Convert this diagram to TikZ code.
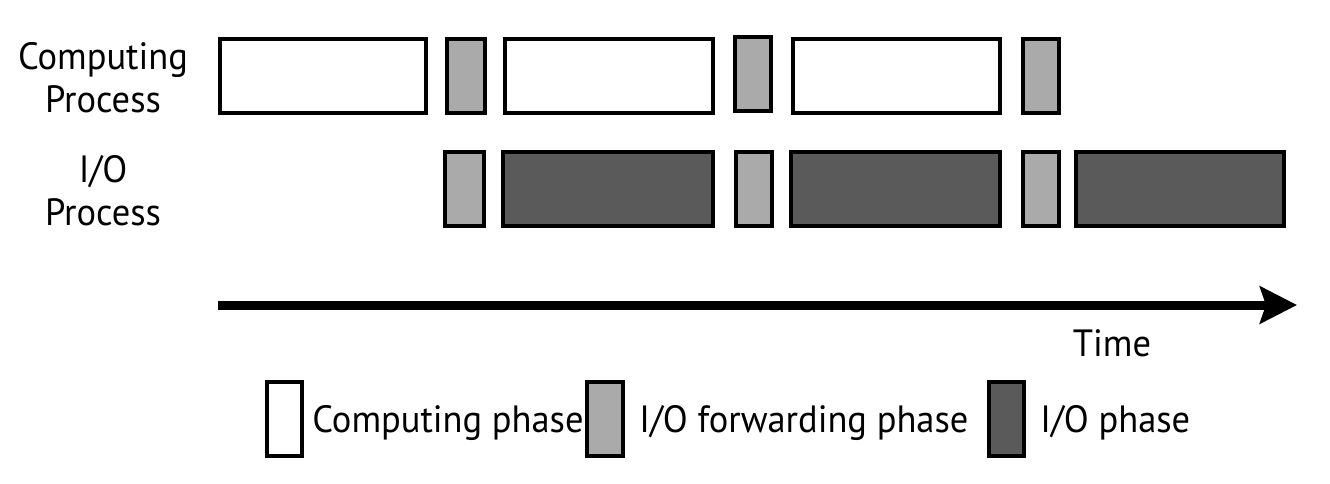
\documentclass[tikz,border=0pt]{standalone}
\usepackage{fontspec}
\setmainfont[FakeStretch=0.96]{PT Sans}
\usepackage{tikz}
\usetikzlibrary{positioning,arrows.meta}
\definecolor{fwdgray}{HTML}{AAAAAA}
\definecolor{iogray}{HTML}{5A5A5A}
\tikzset{
  phase/.style={rectangle, draw=black, line width=2pt, minimum height=37pt, inner sep=0pt},
  comp/.style={phase, fill=white},
  fwdp/.style={phase, fill=fwdgray},
  iop/.style={phase, fill=iogray},
  label/.style={font=\fontsize{19}{21.5}\selectfont, align=center, inner sep=0pt},
  timeline/.style={line width=4.5pt, -{Stealth[length=18.5pt,width=18.5pt,inset=3pt]}},
}
\begin{document}
\begin{tikzpicture}[x=0.5pt, y=-0.5pt]
\useasboundingbox (0,0) rectangle (1330,483);
%Row labels
\node[label] (lcomp) at (103,78) {Computing\\Process};
\node[label] (lio) at (103,191) {I/O\\Process};

%Computing process
\node[comp, minimum width=103pt] (c1) at (323,76) {};
\node[fwdp, minimum width=19pt] (f1) at (466,76) {};
\node[comp, minimum width=104pt] (c2) at (609,76) {};
\node[fwdp, minimum width=18pt] (f2) at (753,74) {};
\node[comp, minimum width=103.5pt] (c3) at (896.5,76) {};
\node[fwdp, minimum width=18pt] (f3) at (1041,76) {};

%I/O process
\node[fwdp, minimum width=19.5pt] (f4) at (464.5,189) {};
\node[iop, minimum width=105pt] (o1) at (608,189) {};
\node[fwdp, minimum width=18pt] (f5) at (754,189) {};
\node[iop, minimum width=104.5pt] (o2) at (895.5,189) {};
\node[fwdp, minimum width=18pt] (f6) at (1041,189) {};
\node[iop, minimum width=104pt] (o3) at (1180,189) {};

%Time axis
\coordinate (tstart) at (218,305);
\coordinate (tend) at (1297,305);
\draw[timeline] (tstart) -- (tend);
\node[label] (time) at (1112,343) {Time};

%Legend
\node[comp, minimum width=17.5pt] (kcomp) at (284.5,419) {};
\node[label, anchor=west] (tcomp) [right=4pt of kcomp, yshift=-2pt] {Computing phase};
\node[fwdp, minimum width=18pt] (kfwd) at (605,419) {};
\node[label, anchor=west] (tfwd) [right=7pt of kfwd, yshift=-2pt] {I/O forwarding phase};
\node[iop, minimum width=17.5pt] (kio) at (1006.5,419) {};
\node[label, anchor=west] (tio) [right=7pt of kio, yshift=-2pt] {I/O phase};
\end{tikzpicture}
\end{document}
